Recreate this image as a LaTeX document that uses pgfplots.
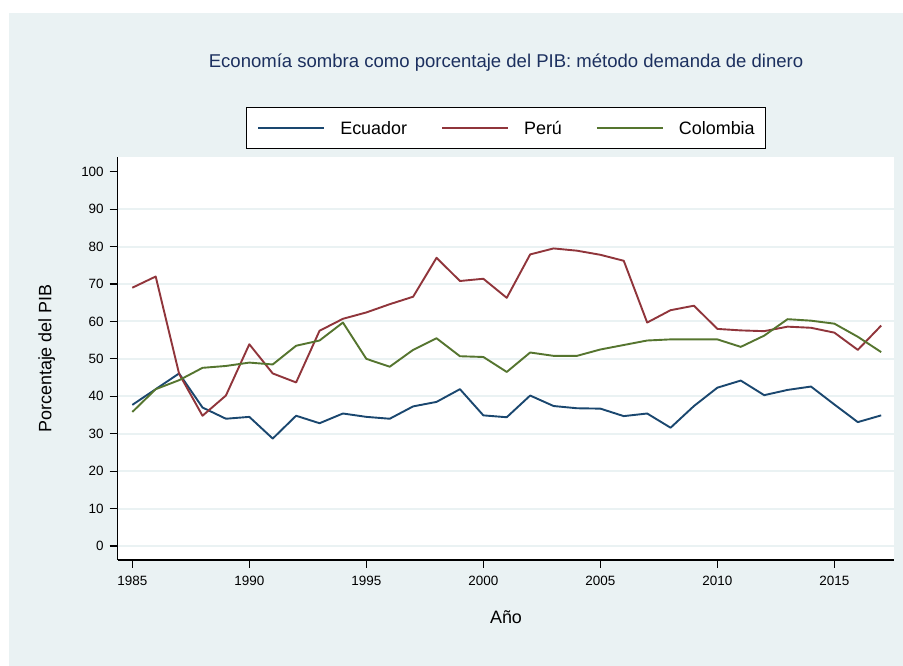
\documentclass[border=0pt]{standalone}
\usepackage{fontspec}
\setmainfont{Liberation Sans}
\usepackage{pgfplots}
\usepackage{pgfplotstable}
\pgfplotsset{compat=1.18}
\definecolor{bg}{RGB}{234,242,243}
\definecolor{gridc}{RGB}{234,242,243}
\definecolor{ecu}{RGB}{26,71,111}
\definecolor{per}{RGB}{144,53,59}
\definecolor{col}{RGB}{85,117,47}
\definecolor{ttl}{RGB}{28,48,95}

\pgfplotstableread{
year ecuador peru colombia
1985 37.7 69.0 35.8
1986 41.9 72.0 41.9
1987 46.1 46.0 44.3
1988 37.0 34.8 47.6
1989 34.0 40.2 48.1
1990 34.5 53.9 49.0
1991 28.7 46.1 48.5
1992 34.8 43.7 53.5
1993 32.8 57.5 54.9
1994 35.4 60.7 59.7
1995 34.5 62.4 50.0
1996 34.0 64.6 47.9
1997 37.3 66.6 52.4
1998 38.5 77.0 55.5
1999 41.9 70.8 50.7
2000 34.9 71.4 50.5
2001 34.4 66.3 46.5
2002 40.2 77.9 51.7
2003 37.4 79.5 50.8
2004 36.8 78.9 50.8
2005 36.7 77.8 52.5
2006 34.7 76.2 53.7
2007 35.4 59.7 54.9
2008 31.6 63.0 55.2
2009 37.4 64.2 55.2
2010 42.3 58.0 55.2
2011 44.2 57.6 53.2
2012 40.3 57.4 56.2
2013 41.7 58.6 60.6
2014 42.6 58.3 60.2
2015 37.8 57.0 59.4
2016 33.1 52.4 55.9
2017 34.9 58.9 51.8
}\datatable

\begin{document}
\begin{tikzpicture}
\useasboundingbox (0,0) rectangle (903bp,666bp);
\fill[white] (0,0) rectangle (903bp,666bp);
\fill[bg] (9bp,0) rectangle (903bp,653bp);
\begin{axis}[
  at={(117.7bp,106bp)}, anchor=south west,
  scale only axis, width=776.6bp, height=403bp,
  xmin=1984.376, xmax=2017.56, ymin=-3.74, ymax=103.93,
  axis background/.style={fill=white},
  axis x line*=bottom, axis y line*=left,
  axis line style={-, line width=1.5bp, black},
  xtick={1985,1990,...,2015}, ytick={0,10,...,100},
  tick align=outside, major tick length=8bp,
  tick style={line width=1.2bp, black},
  every tick label/.append style={font=\fontsize{13.5}{15}\selectfont},
  xticklabel style={yshift=-5bp},
  yticklabel style={xshift=-2.5bp},
  /pgf/number format/assume math mode=true,
  /pgf/number format/1000 sep={},
  extra y ticks={0,10,...,90}, extra y tick labels={},
  extra y tick style={ymajorgrids=true, major tick length=0pt},
  major grid style={gridc, line width=2bp},
  title={Economía sombra como porcentaje del PIB: método demanda de dinero},
  title style={at={(0.5,1.2084)}, anchor=base, font=\fontsize{18.6}{21}\selectfont, text=ttl, inner sep=0pt},
  xlabel={Año},
  xlabel style={at={(0.5,-0.1588)}, anchor=base, font=\fontsize{18}{21}\selectfont, inner sep=0pt},
  ylabel={Porcentaje del PIB},
  ylabel style={at={(-0.0915,0.5)}, anchor=center, font=\fontsize{18}{21}\selectfont, inner sep=0pt},
  legend columns=3,
  legend style={at={(0.5,1.0720)}, anchor=center, draw=black, line width=1.2bp, fill=white,
    inner xsep=11bp, inner ysep=13.4bp, font=\fontsize{18}{21}\selectfont,
    nodes={inner sep=0pt, text height=14bp, text depth=0bp},
    /tikz/every odd column/.append style={column sep=15bp},
    /tikz/every even column/.append style={column sep=34bp}},
  legend image code/.code={\draw[#1, line width=2bp] (0bp,0bp) -- (66bp,0bp);},
]
\addplot[ecu, line width=1.9bp, line join=round] table[x=year, y=ecuador] {\datatable};
\addlegendentry{Ecuador}
\addplot[per, line width=1.9bp, line join=round] table[x=year, y=peru] {\datatable};
\addlegendentry{Perú}
\addplot[col, line width=1.9bp, line join=round] table[x=year, y=colombia] {\datatable};
\addlegendentry{Colombia}
\end{axis}
\end{tikzpicture}
\end{document}
